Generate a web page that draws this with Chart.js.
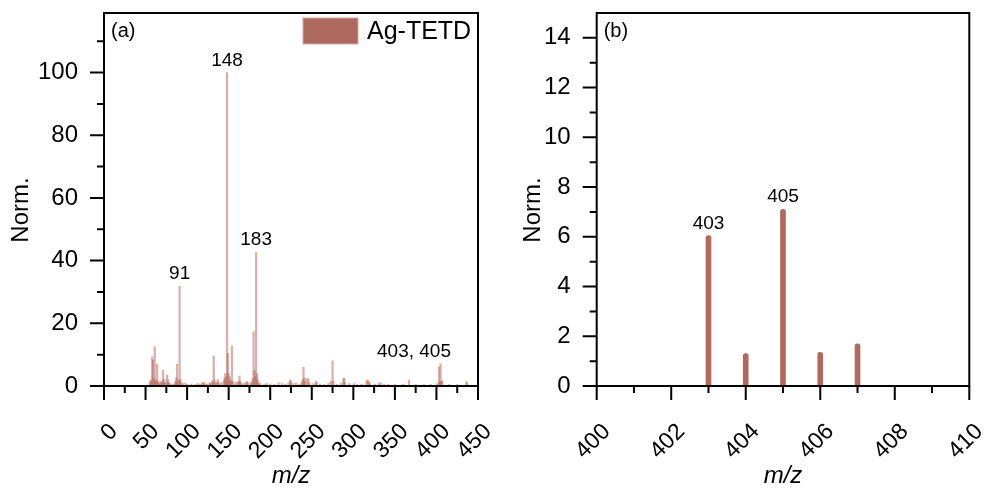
<!DOCTYPE html>
<html>
<head>
<meta charset="utf-8">
<script src="https://cdn.jsdelivr.net/npm/chart.js@4.4.1/dist/chart.umd.min.js"></script>
<style>
  html, body { margin: 0; padding: 0; background: #fff; }
  #wrap { position: relative; width: 985px; height: 494px; overflow: hidden; }
  .panel { position: absolute; top: 0; }
  #panelA { left: 0; }
  #panelB { left: 490px; }
</style>
</head>
<body>
<div id="wrap">
  <div class="panel" id="panelA"><canvas id="chartA" width="490" height="494"></canvas></div>
  <div class="panel" id="panelB"><canvas id="chartB" width="495" height="494"></canvas></div>
</div>
<script>
// ---- data (a): full spectrum ----
const fullMz = [55, 56, 57, 58, 59, 60, 61, 62, 63, 64, 65, 66, 68, 69, 70, 71, 72, 73, 74, 76, 77, 78, 79, 82, 85, 86, 87, 88, 89, 90,
  91, 92, 93, 95, 98, 100, 105, 110, 113, 116, 118, 120, 121, 124, 127, 128, 130, 131, 132, 133, 134, 136, 137, 138, 141, 144, 145, 146, 147,
  148, 149, 150, 151, 152, 153, 154, 155, 158, 160, 162, 163, 164, 165, 168, 170, 172, 173, 176, 178, 179, 180, 181, 182, 183, 184, 185, 186,
  188, 193, 196, 200, 205, 210, 214, 218, 222, 224, 225, 228, 231, 235, 238, 239, 240, 241, 242, 244, 246, 247, 252, 255, 256, 260, 265, 270,
  273, 275, 276, 280, 285, 288, 289, 290, 295, 301, 305, 310, 316, 317, 319, 320, 326, 331, 333, 337, 342, 350, 360, 367, 375, 385, 393, 401,
  403, 404, 405, 406, 407, 415, 425, 436, 437];
const fullInt = [1.0, 2.0, 1.5, 9.3, 8.3, 2.5, 12.5, 1.5, 2.0, 7.0, 1.5, 1.0, 1.0, 1.5, 1.0, 5.0, 2.1, 1.0, 1.2, 3.5, 2.0, 1.0, 0.8, 0.6, 0.8, 1.5, 2.6, 7.0, 1.2, 2.0,
  31.8, 2.0, 1.0, 0.8, 1.0, 0.5, 0.6, 0.5, 0.8, 0.6, 1.0, 1.2, 0.8, 0.6, 1.0, 0.8, 1.5, 1.0, 9.6, 2.0, 1.0, 1.2, 2.1, 1.0, 1.0, 1.5, 2.5, 4.0, 3.0,
  100, 10.4, 4.0, 3.0, 2.0, 1.5, 12.8, 1.5, 1.0, 1.2, 1.5, 3.2, 1.5, 0.8, 0.8, 1.0, 1.5, 1.0, 1.0, 1.5, 2.5, 17.3, 5.0, 3.0, 42.6, 4.0, 2.0, 1.0,
  0.8, 0.6, 0.8, 0.6, 0.5, 1.0, 0.8, 0.6, 1.0, 2.0, 1.5, 0.8, 1.0, 0.6, 1.2, 2.0, 6.0, 2.5, 1.5, 2.4, 2.3, 1.0, 0.8, 1.6, 1.0, 0.6, 0.5, 0.8,
  1.5, 8.0, 1.5, 0.5, 0.8, 2.3, 2.5, 1.0, 0.8, 0.8, 0.5, 0.6, 1.5, 2.0, 1.5, 0.8, 0.6, 0.8, 1.0, 0.6, 0.5, 0.5, 0.6, 1.9, 0.5, 0.5, 0.5, 0.8,
  6.1, 1.3, 7.1, 1.4, 1.7, 0.5, 0.5, 1.4, 0.8];
const fullXTicks = [0, 50, 100, 150, 200, 250, 300, 350, 400, 450];
const fullXMinor = [25, 75, 125, 175, 225, 275, 325, 375, 425];
const fullYTicks = [0, 20, 40, 60, 80, 100];
const fullYMinor = [10, 30, 50, 70, 90, 110];
const fullPeakText = ['91', '148', '183', '403, 405'];
const fullPeakMz = [91, 148, 183, 373];
const fullPeakInt = [31.8, 100, 42.6, 7.1];

// ---- data (b): 400-410 zoom ----
const zoomMz = [403, 404, 405, 406, 407];
const zoomInt = [6.05, 1.3, 7.1, 1.35, 1.7];
const zoomXTicks = [400, 402, 404, 406, 408, 410];
const zoomXMinor = [401, 403, 405, 407, 409];
const zoomYTicks = [0, 2, 4, 6, 8, 10, 12, 14];
const zoomYMinor = [1, 3, 5, 7, 9, 11, 13];
const zoomPeakText = ['403', '405'];
const zoomPeakMz = [403, 405];
const zoomPeakInt = [6.05, 7.1];

const FONT = '"Liberation Sans", Arial, sans-serif';
const LEGEND_FILL = '#ad695e';

// frame, outward ticks, rotated x labels, y title, panel tag, legend and peak labels
const framePlugin = {
    id: 'frame',
    afterDraw(chart, args, o) {
        const { ctx, chartArea: a } = chart;
        const x = chart.scales.x, y = chart.scales.y;
        ctx.save();
        ctx.strokeStyle = '#000'; ctx.lineWidth = 2;
        ctx.strokeRect(a.left, a.top, a.right - a.left, a.bottom - a.top);
        ctx.beginPath();
        o.xMajor.forEach(v => { const p = x.getPixelForValue(v); ctx.moveTo(p, a.bottom); ctx.lineTo(p, a.bottom + 14); });
        o.xMinor.forEach(v => { const p = x.getPixelForValue(v); ctx.moveTo(p, a.bottom); ctx.lineTo(p, a.bottom + 7); });
        o.yMajor.forEach(v => { const p = y.getPixelForValue(v); ctx.moveTo(a.left, p); ctx.lineTo(a.left - 14, p); });
        o.yMinor.forEach(v => { const p = y.getPixelForValue(v); ctx.moveTo(a.left, p); ctx.lineTo(a.left - 7, p); });
        ctx.stroke();

        ctx.fillStyle = '#000';
        ctx.font = '23px ' + FONT;
        ctx.textAlign = 'right'; ctx.textBaseline = 'middle';
        o.xMajor.forEach(v => {
            const p = x.getPixelForValue(v);
            ctx.save(); ctx.translate(p + 10, a.bottom + 42); ctx.rotate(-Math.PI / 4);
            ctx.fillText(String(v), 0, 0); ctx.restore();
        });

        // y title
        ctx.font = '24px ' + FONT;
        ctx.textAlign = 'center';
        ctx.save(); ctx.translate(o.yTitleX, 210); ctx.rotate(-Math.PI / 2);
        ctx.fillText('Norm.', 0, 0); ctx.restore();

        ctx.font = '20px ' + FONT;
        ctx.textAlign = 'left'; ctx.textBaseline = 'alphabetic';
        ctx.fillText(o.tag, a.left + 7, a.top + 24);

        ctx.font = '19px ' + FONT;
        ctx.textAlign = 'center';
        o.peakText.forEach((t, i) => {
            ctx.fillText(t, x.getPixelForValue(o.peakMz[i]), y.getPixelForValue(o.peakInt[i]) - 7);
        });

        if (o.legend) {
            ctx.fillStyle = LEGEND_FILL;
            ctx.fillRect(a.right - 175, a.top + 5, 55, 26);
            ctx.strokeStyle = '#dba79e'; ctx.lineWidth = 1;
            ctx.strokeRect(a.right - 175, a.top + 5, 55, 26);
            ctx.fillStyle = '#000';
            ctx.font = '25px ' + FONT;
            ctx.textAlign = 'left'; ctx.textBaseline = 'middle';
            ctx.fillText(o.legend, a.right - 111, a.top + 19);
        }
        ctx.restore();
    }
};

function makeScales(xMin, xMax, yMax, yTicks, yWidth) {
    return {
        x: {
            type: 'linear', min: xMin, max: xMax, offset: false,
            grid: { display: false, drawTicks: false }, border: { display: false },
            ticks: { display: false },
            title: { display: true, text: 'm/z', color: '#000', font: { family: FONT, size: 24, style: 'italic' }, padding: { top: 0, bottom: 3 } },
            afterFit: s => { s.height = 108; s.paddingLeft = 0; s.paddingRight = 0; }
        },
        y: {
            type: 'linear', min: 0, max: yMax,
            grid: { display: false, drawTicks: false }, border: { display: false },
            afterBuildTicks: s => { s.ticks = yTicks.map(v => ({ value: v })); },
            ticks: { color: '#000', padding: 26, font: { family: FONT, size: 24 } },
            afterFit: s => { s.width = yWidth; s.paddingTop = 0; s.paddingBottom = 0; }
        }
    };
}

// (a) full spectrum
new Chart(document.getElementById('chartA'), {
    type: 'bar',
    data: {
        datasets: [{
            label: 'Ag-TETD',
            data: fullMz.map((m, i) => ({ x: m, y: fullInt[i] })),
            backgroundColor: 'rgba(180, 98, 86, 0.5)',
            barThickness: 1.6
        }]
    },
    options: {
        responsive: false, animation: false,
        layout: { padding: { top: 13, right: 12, left: 0, bottom: 0 } },
        scales: makeScales(0, 450, 119, fullYTicks, 104),
        plugins: {
            tooltip: { enabled: false },
            legend: { display: false },
            frame: { xMajor: fullXTicks, xMinor: fullXMinor, yMajor: fullYTicks, yMinor: fullYMinor, tag: '(a)', yTitleX: 21,
                     legend: 'Ag-TETD', peakText: fullPeakText, peakMz: fullPeakMz, peakInt: fullPeakInt }
        }
    },
    plugins: [framePlugin]
});

// (b) 400-410 region
new Chart(document.getElementById('chartB'), {
    type: 'bar',
    data: {
        datasets: [{
            label: 'Ag-TETD',
            data: zoomMz.map((m, i) => ({ x: m, y: zoomInt[i] })),
            backgroundColor: '#b3685c',
            barThickness: 5,
            borderRadius: 3
        }]
    },
    options: {
        responsive: false, animation: false,
        layout: { padding: { top: 13, right: 15.7, left: 0, bottom: 0 } },
        scales: makeScales(400, 410, 15, zoomYTicks, 106.7),
        plugins: {
            tooltip: { enabled: false },
            legend: { display: false },
            frame: { xMajor: zoomXTicks, xMinor: zoomXMinor, yMajor: zoomYTicks, yMinor: zoomYMinor, tag: '(b)', yTitleX: 43,
                     legend: null, peakText: zoomPeakText, peakMz: zoomPeakMz, peakInt: zoomPeakInt }
        }
    },
    plugins: [framePlugin]
});
</script>
</body>
</html>
